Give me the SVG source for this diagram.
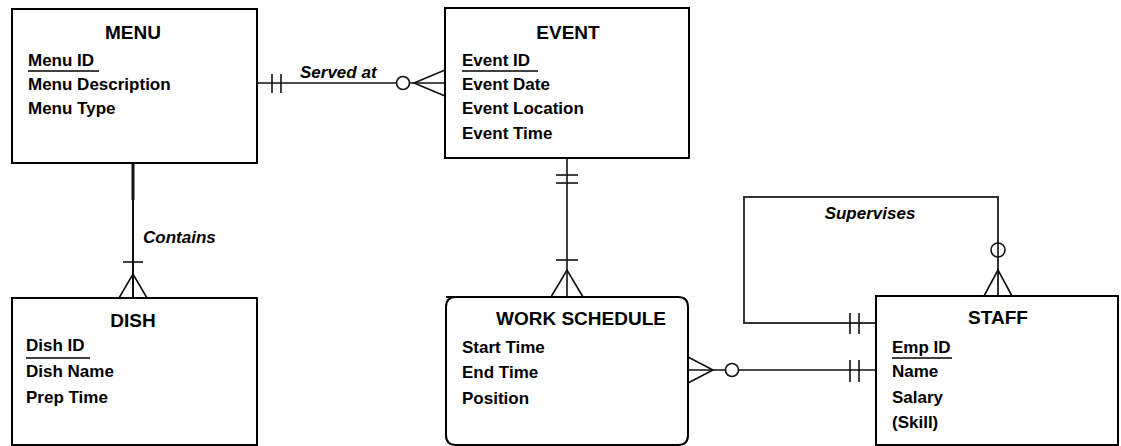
<svg xmlns="http://www.w3.org/2000/svg" width="1121" height="446" viewBox="0 0 1121 446">
<style>
.box{fill:#fff;stroke:#000;stroke-width:2}
.title{font-family:"Liberation Sans",Arial,sans-serif;font-weight:bold;font-size:19px;fill:#000;text-anchor:middle}
.attr{font-family:"Liberation Sans",Arial,sans-serif;font-weight:bold;font-size:17px;fill:#000}
.lbl{font-family:"Liberation Sans",Arial,sans-serif;font-weight:bold;font-style:italic;font-size:17px;fill:#000}
.pk{stroke:#000;stroke-width:1.5}
.ln{fill:none;stroke:#111;stroke-width:1.6}
.circ{fill:#fff;stroke:#111;stroke-width:1.6}
</style>
<rect width="1121" height="446" fill="#fff"/>
<g id="connectors">
  <!-- MENU - EVENT -->
  <line class="ln" x1="257" y1="83" x2="445" y2="83"/>
  <line class="ln" x1="272" y1="74" x2="272" y2="93"/>
  <line class="ln" x1="281" y1="74" x2="281" y2="93"/>
  <polyline class="ln" points="445,70 414,83 445,96"/>
  <circle class="circ" cx="403" cy="83" r="6.5"/>
  <text class="lbl" x="300" y="78">Served at</text>
  <!-- MENU - DISH -->
  <line class="ln" x1="133" y1="163" x2="133" y2="298" style="stroke-width:2"/>
  <line class="ln" x1="133" y1="163" x2="133" y2="200" style="stroke-width:3"/>
  <line class="ln" x1="123" y1="262" x2="143" y2="262"/>
  <polyline class="ln" points="119,298 133,274 147,298"/>
  <text class="lbl" x="143" y="243">Contains</text>
  <!-- EVENT - WORK SCHEDULE -->
  <line class="ln" x1="567" y1="158" x2="567" y2="297"/>
  <line class="ln" x1="556" y1="175" x2="578" y2="175"/>
  <line class="ln" x1="556" y1="183" x2="578" y2="183"/>
  <line class="ln" x1="556" y1="260" x2="578" y2="260"/>
  <polyline class="ln" points="551,297 567,270 583,297"/>
  <!-- WORK SCHEDULE - STAFF -->
  <line class="ln" x1="688" y1="370" x2="876" y2="370"/>
  <polyline class="ln" points="688,357 713,370 688,383"/>
  <circle class="circ" cx="732" cy="370" r="6.5"/>
  <line class="ln" x1="850" y1="360" x2="850" y2="382"/>
  <line class="ln" x1="859" y1="360" x2="859" y2="382"/>
  <!-- STAFF Supervises STAFF -->
  <path class="ln" d="M876,323 H744 V197 H998 V296" style="stroke:#333;stroke-width:2"/>
  <line class="ln" x1="850" y1="313" x2="850" y2="334"/>
  <line class="ln" x1="859" y1="313" x2="859" y2="334"/>
  <circle class="circ" cx="998" cy="250" r="7"/>
  <line class="ln" x1="998" y1="243" x2="998" y2="257"/>
  <polyline class="ln" points="984,296 998,270 1012,296"/>
  <text class="lbl" x="870" y="219" text-anchor="middle">Supervises</text>
</g>
<g id="menu">
  <rect class="box" x="12" y="9" width="245" height="154"/>
  <text class="title" x="133" y="39">MENU</text>
  <text class="attr" x="28" y="66">Menu ID</text>
  <line class="pk" x1="28" y1="71" x2="99" y2="71"/>
  <text class="attr" x="28" y="90">Menu Description</text>
  <text class="attr" x="28" y="114">Menu Type</text>
</g>
<g id="event">
  <rect class="box" x="445" y="8" width="244" height="150"/>
  <text class="title" x="568" y="39">EVENT</text>
  <text class="attr" x="462" y="66">Event ID</text>
  <line class="pk" x1="462" y1="71" x2="538" y2="71"/>
  <text class="attr" x="462" y="90">Event Date</text>
  <text class="attr" x="462" y="114">Event Location</text>
  <text class="attr" x="462" y="139">Event Time</text>
</g>
<g id="dish">
  <rect class="box" x="12" y="298" width="245" height="147"/>
  <text class="title" x="133" y="327">DISH</text>
  <text class="attr" x="26" y="351">Dish ID</text>
  <line class="pk" x1="26" y1="358" x2="90" y2="358"/>
  <text class="attr" x="26" y="377">Dish Name</text>
  <text class="attr" x="26" y="403">Prep Time</text>
</g>
<g id="work-schedule">
  <path class="box" d="M446,297 H678 Q688,297 688,307 V435 Q688,445 678,445 H456 Q446,445 446,435 V307 Q446,297 456,297 Z"/>
  <text class="title" x="581" y="325">WORK SCHEDULE</text>
  <text class="attr" x="462" y="353">Start Time</text>
  <text class="attr" x="462" y="378">End Time</text>
  <text class="attr" x="462" y="404">Position</text>
</g>
<g id="staff">
  <rect class="box" x="876" y="296" width="242" height="149"/>
  <text class="title" x="998" y="324">STAFF</text>
  <text class="attr" x="892" y="353">Emp ID</text>
  <line class="pk" x1="892" y1="358" x2="952" y2="358"/>
  <text class="attr" x="892" y="377">Name</text>
  <text class="attr" x="892" y="403">Salary</text>
  <text class="attr" x="892" y="428">(Skill)</text>
</g>
</svg>
